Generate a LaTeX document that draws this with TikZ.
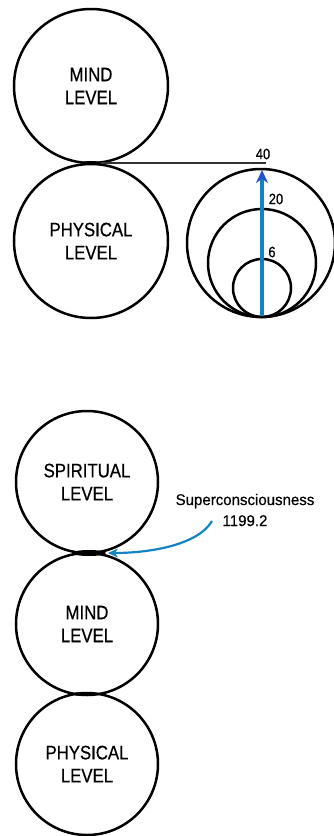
\documentclass[tikz,border=0pt]{standalone}
\usepackage{fontspec}
\setmainfont{Liberation Sans}[FakeStretch=0.86, FakeBold=0.6]
\newfontfamily\notefont{Liberation Sans}[FakeStretch=0.97, FakeBold=0.5]
\usetikzlibrary{arrows.meta}
\definecolor{arrowblue}{RGB}{18,132,198}
\definecolor{tipblue}{RGB}{35,85,200}
\tikzset{
  level/.style={circle, draw=black, line width=2.5pt, minimum size=#1, inner sep=0pt,
    align=center, font=\fontsize{19.5}{23}\selectfont},
  ring/.style={circle, draw=black, line width=2.5pt, minimum size=#1, inner sep=0pt},
  num/.style={font=\fontsize{15}{16}\selectfont, inner sep=0pt},
  note/.style={font=\notefont\fontsize{15.5}{21}\selectfont, align=center, inner sep=0pt},
  riser/.style={draw=arrowblue, line width=3.6pt, -{Stealth[length=13pt, width=12pt, color=tipblue]}},
  pointer/.style={draw=arrowblue, line width=2.2pt, -{Stealth[length=10pt, width=9pt]}},
  blob/.style={fill=black}
}
\begin{document}
\begin{tikzpicture}[x=1pt, y=-1pt]
\useasboundingbox (0,0) rectangle (333,836);
% ---------- top part ----------
\node[level=154pt] (mindA) at (91,86) {MIND\\LEVEL};
\node[level=154pt] (physA) at (91,241) {PHYSICAL\\LEVEL};
\node[ring=148pt] (big) at (261,243) {};
\node[ring=108pt] (mid) at (262,263) {};
\node[ring=58pt] (small) at (262,288) {};
\coordinate (tanA) at (91,163);
\coordinate (lineEnd) at (266,163);
\draw[line width=1.3pt, black!80] (tanA) -- (lineEnd);
\fill[blob] (tanA) ellipse (10pt and 2pt);
\coordinate (base) at (262,316);
\coordinate (peak) at (262,170);
\draw[riser] (base) -- (peak);
\node[num] (n40) at (263,154) {40};
\node[num] (n20) at (276,199) {20};
\node[num] (n6) at (272,252) {6};
% ---------- bottom part ----------
\node[level=142pt] (spirit) at (87,482) {SPIRITUAL\\LEVEL};
\node[level=142pt] (mindB) at (87,624) {MIND\\LEVEL};
\node[level=142pt] (physB) at (87,764) {PHYSICAL\\LEVEL};
\coordinate (tanB) at (89,553);
\fill[blob] (tanB) ellipse (17pt and 3pt);
\coordinate (tanC) at (84,694);
\fill[blob] (tanC) ellipse (12pt and 2pt);
\node[note] (super) at (245,510) {Superconsciousness\\1199.2};
\coordinate (tail) at (212,521);
\coordinate (tip) at (108,553);
\draw[pointer] (tail) .. controls (198,545) and (150,553) .. (tip);
\end{tikzpicture}
\end{document}
